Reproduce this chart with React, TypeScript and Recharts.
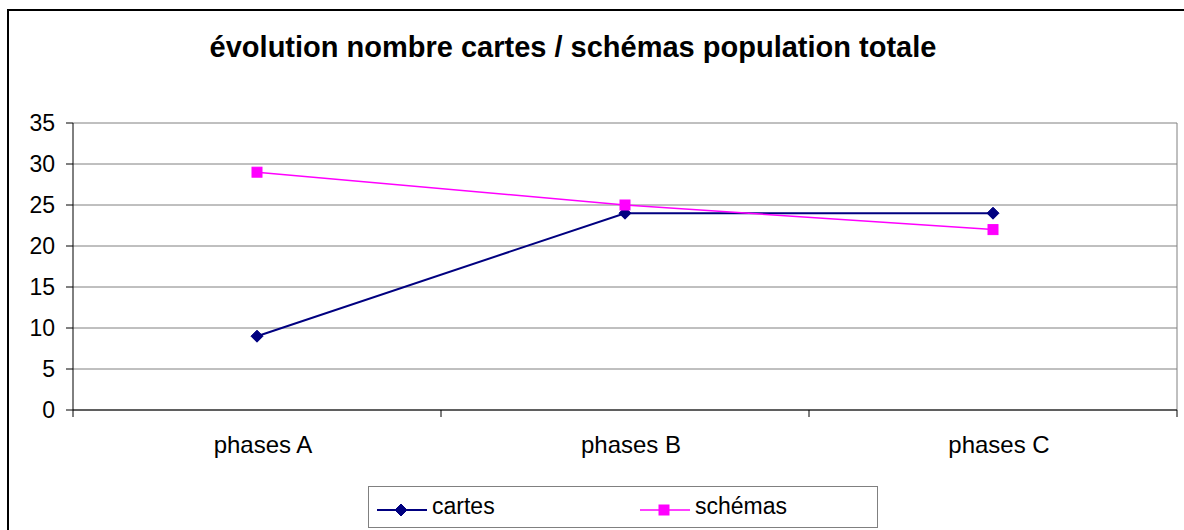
import React from 'react';
import { LineChart, Line, XAxis, YAxis, CartesianGrid, ReferenceLine } from 'recharts';

// valeurs
const phases = ['phases A', 'phases B', 'phases C'];
const cartes = [9, 24, 24];
const schemas = [29, 25, 22];
const yTicks = [0, 5, 10, 15, 20, 25, 30, 35];

const data = phases.map((p, i) => ({ pos: i, phase: p, cartes: cartes[i], schemas: schemas[i] }));
// centres des catégories + séparations
const xTicks = [-0.5, 0, 0.5, 1, 1.5, 2, 2.5];

const NAVY = '#000080';
const MAGENTA = '#FF00FF';
const FONT = '"Liberation Sans", Arial, sans-serif';

const Diamond = (props: any) => {
  const { cx, cy } = props;
  if (cx == null || cy == null) return null;
  return <path d={`M${cx},${cy - 6} L${cx + 6},${cy} L${cx},${cy + 6} L${cx - 6},${cy} Z`} fill={NAVY} stroke={NAVY} />;
};

const Square = (props: any) => {
  const { cx, cy } = props;
  if (cx == null || cy == null) return null;
  return <rect x={cx - 5} y={cy - 5} width={10} height={10} fill={MAGENTA} stroke={MAGENTA} />;
};

const PhaseTick = (props: any) => {
  const { x, y, payload } = props;
  const v = payload.value;
  if (Number.isInteger(v)) {
    // les libellés sont un peu décalés à droite dans l'original
    return (
      <text x={x + 6} y={y + 26} dy="0.71em" textAnchor="middle" fill="#000" fontSize={24} fontFamily={FONT}>
        {phases[v]}
      </text>
    );
  }
  return <line x1={x} y1={y} x2={x} y2={y + 7} stroke="#000" />;
};

const LegendBox = () => (
  <div
    style={{
      position: 'absolute',
      left: 368,
      top: 486,
      width: 508,
      height: 40,
      border: '1px solid #808080',
      fontFamily: FONT,
      fontSize: 23,
      color: '#000',
    }}
  >
    <svg width={60} height={40} style={{ position: 'absolute', left: 8, top: 0 }}>
      <line x1={0} y1={23} x2={50} y2={23} stroke={NAVY} strokeWidth={2} />
      <Diamond cx={24} cy={23} />
    </svg>
    <span style={{ position: 'absolute', left: 63, top: 6 }}>cartes</span>
    <svg width={60} height={40} style={{ position: 'absolute', left: 271, top: 0 }}>
      <line x1={0} y1={23} x2={50} y2={23} stroke={MAGENTA} strokeWidth={1.5} />
      <Square cx={24} cy={23} />
    </svg>
    <span style={{ position: 'absolute', left: 326, top: 6 }}>schémas</span>
  </div>
);

export default function App() {
  return (
    <div style={{ position: 'absolute', left: 0, top: 0, width: 1184, height: 530, background: '#fff', overflow: 'hidden' }}>
      <div
        style={{
          position: 'absolute',
          left: 7,
          top: 9,
          width: 1200,
          height: 540,
          border: '2px solid #000',
        }}
      />
      <div
        style={{
          position: 'absolute',
          left: 0,
          width: 1146,
          top: 31,
          textAlign: 'center',
          fontFamily: FONT,
          fontWeight: 'bold',
          fontSize: 29,
          color: '#000',
        }}
      >
        évolution nombre cartes / schémas population totale
      </div>
      <div style={{ position: 'absolute', left: 0, top: 0 }}>
        <LineChart
          width={1184}
          height={530}
          data={data}
          margin={{ top: 123, right: 7, bottom: 60, left: 13 }}
          style={{ fontFamily: FONT }}
        >
          <CartesianGrid horizontal vertical={false} stroke="#808080" strokeWidth={1} />
          <XAxis
            dataKey="pos"
            type="number"
            height={60}
            domain={[-0.5, 2.5]}
            ticks={xTicks}
            interval={0}
            allowDataOverflow
            tickLine={false}
            tickSize={0}
            tickMargin={0}
            axisLine={{ stroke: '#000' }}
            tick={<PhaseTick />}
          />
          <YAxis
            width={60}
            domain={[0, 35]}
            ticks={yTicks}
            interval={0}
            tickSize={7}
            tickMargin={11}
            axisLine={{ stroke: '#000' }}
            tickLine={{ stroke: '#000' }}
            fontSize={23}
            tick={{ fill: '#000', fontSize: 23 }}
          />
          <ReferenceLine x={2.5} stroke="#808080" />
          <Line
            dataKey="cartes"
            stroke={NAVY}
            strokeWidth={2}
            dot={<Diamond />}
            activeDot={false}
            isAnimationActive={false}
          />
          <Line
            dataKey="schemas"
            stroke={MAGENTA}
            strokeWidth={1.5}
            dot={<Square />}
            activeDot={false}
            isAnimationActive={false}
          />
        </LineChart>
      </div>
      <LegendBox />
    </div>
  );
}
